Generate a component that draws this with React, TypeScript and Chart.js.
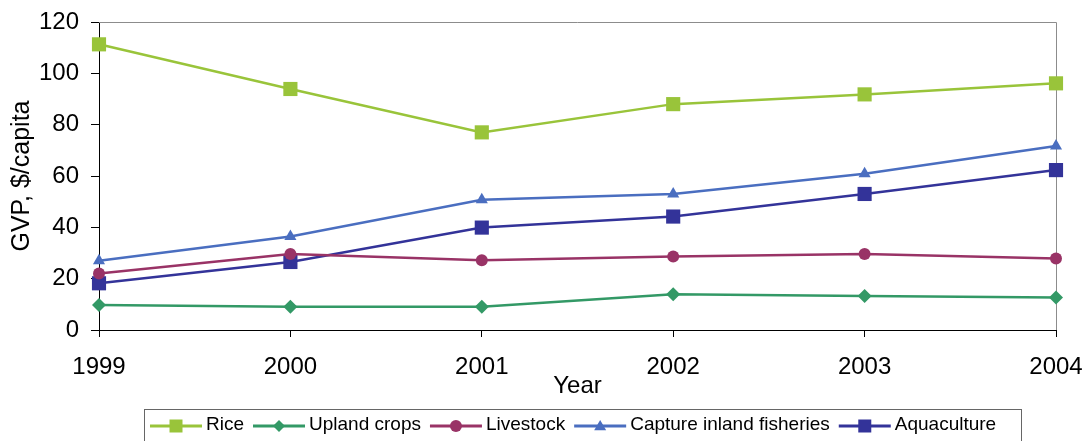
import React, { useEffect, useRef } from "react";
import { Chart, registerables } from "chart.js";

Chart.register(...registerables);

const years = ["1999", "2000", "2001", "2002", "2003", "2004"];
const rice = [111.3, 93.9, 77.0, 88.0, 91.8, 96.1];
const upland = [9.7, 9.1, 9.1, 13.9, 13.2, 12.7];
const livestock = [22.0, 29.6, 27.2, 28.6, 29.6, 27.9];
const capture = [27.0, 36.4, 50.7, 53.0, 60.9, 71.7];
const aquaculture = [18.2, 26.5, 39.9, 44.2, 53.0, 62.3];

const FONT = "'Liberation Sans', Arial, sans-serif";

const series = [
  { label: "Rice", data: rice, color: "#99C43A", style: "rect", r: 10, legendSize: 13 },
  { label: "Upland crops", data: upland, color: "#339966", style: "rectRot", r: 7, legendSize: 6 },
  { label: "Livestock", data: livestock, color: "#993366", style: "circle", r: 6, legendSize: 6 },
  { label: "Capture inland fisheries", data: capture, color: "#4A6EC0", style: "triangle", r: 7, legendSize: 6 },
  { label: "Aquaculture", data: aquaculture, color: "#333399", style: "rect", r: 10, legendSize: 13 },
];

function drawMarker(ctx: CanvasRenderingContext2D, style: string, x: number, y: number, s: number) {
  ctx.beginPath();
  if (style === "rect") {
    ctx.rect(x - s / 2, y - s / 2, s, s);
  } else if (style === "rectRot") {
    ctx.moveTo(x, y - s);
    ctx.lineTo(x + s, y);
    ctx.lineTo(x, y + s);
    ctx.lineTo(x - s, y);
    ctx.closePath();
  } else if (style === "circle") {
    ctx.arc(x, y, s, 0, Math.PI * 2);
  } else if (style === "triangle") {
    ctx.moveTo(x, y - s);
    ctx.lineTo(x + s, y + s * 0.7);
    ctx.lineTo(x - s, y + s * 0.7);
    ctx.closePath();
  }
  ctx.fill();
}

const framePlugin = {
  id: "frame",
  beforeDatasetsDraw(chart: any) {
    const { ctx, chartArea } = chart;
    ctx.save();
    ctx.strokeStyle = "#8c8c8c";
    ctx.lineWidth = 1;
    ctx.beginPath();
    ctx.moveTo(chartArea.left, chartArea.top + 0.5);
    ctx.lineTo(chartArea.right + 0.5, chartArea.top + 0.5);
    ctx.lineTo(chartArea.right + 0.5, chartArea.bottom);
    ctx.stroke();
    ctx.restore();
  },
};

const legendPlugin = {
  id: "customLegend",
  afterDraw(chart: any) {
    const { ctx } = chart;
    ctx.save();
    ctx.strokeStyle = "#666666";
    ctx.lineWidth = 1;
    ctx.strokeRect(144.5, 409.5, 877, 40);
    ctx.font = `19px ${FONT}`;
    ctx.textBaseline = "alphabetic";
    ctx.textAlign = "left";
    let x = 150;
    const ly = 426;
    chart.data.datasets.forEach((ds: any, i: number) => {
      const s = series[i];
      ctx.strokeStyle = ds.borderColor;
      ctx.fillStyle = ds.borderColor;
      ctx.lineWidth = 3;
      ctx.beginPath();
      ctx.moveTo(x, ly);
      ctx.lineTo(x + 52, ly);
      ctx.stroke();
      drawMarker(ctx, s.style, x + 26, ly, s.legendSize);
      x += 56;
      ctx.fillStyle = "#000";
      ctx.fillText(ds.label, x, 430);
      x += ctx.measureText(ds.label).width + 9;
    });
    ctx.restore();
  },
};

export default function App() {
  const ref = useRef<HTMLCanvasElement | null>(null);
  useEffect(() => {
    if (!ref.current) return;
    const chart = new Chart(ref.current, {
      type: "line",
      data: {
        labels: years,
        datasets: series.map((s) => ({
          label: s.label,
          data: s.data,
          borderColor: s.color,
          backgroundColor: s.color,
          pointBackgroundColor: s.color,
          pointBorderColor: s.color,
          pointStyle: s.style as any,
          pointRadius: s.r,
          pointBorderWidth: 0,
          borderWidth: 2.5,
          tension: 0,
          fill: false,
        })),
      },
      options: {
        responsive: false,
        animation: false,
        layout: { padding: { left: 0, right: 30, top: 22, bottom: 0 } },
        plugins: { legend: { display: false }, tooltip: { enabled: false }, title: { display: false } },
        scales: {
          x: {
            type: "category",
            offset: false,
            grid: { display: true, drawOnChartArea: false, drawTicks: true, tickLength: 7, color: "#000" },
            border: { display: true, color: "#000", width: 1 },
            ticks: { color: "#000", font: { family: FONT, size: 24 }, padding: 16, maxRotation: 0, autoSkip: false },
            title: { display: true, text: "Year", color: "#000", font: { family: FONT, size: 24 }, padding: { top: 0, bottom: 40 } },
            afterFit: (s: any) => { s.height = 111; s.paddingLeft = 0; s.paddingRight = 0; },
          },
          y: {
            min: 0,
            max: 120,
            grid: { display: true, drawOnChartArea: false, drawTicks: true, tickLength: 8, color: "#000" },
            border: { display: true, color: "#000", width: 1 },
            ticks: { stepSize: 20, color: "#000", font: { family: FONT, size: 24 }, padding: 12 },
            title: { display: true, text: "GVP, $/capita", color: "#000", font: { family: FONT, size: 25 }, padding: { top: 7, bottom: 0 } },
            afterFit: (s: any) => { s.width = 99; s.paddingTop = 0; s.paddingBottom = 0; },
          },
        },
      },
      plugins: [framePlugin, legendPlugin],
    });
    return () => chart.destroy();
  }, []);
  return (
    <div style={{ position: "absolute", left: 0, top: 0, width: 1086, height: 441, background: "#fff" }}>
      <canvas ref={ref} width={1086} height={441} style={{ display: "block" }} />
    </div>
  );
}
